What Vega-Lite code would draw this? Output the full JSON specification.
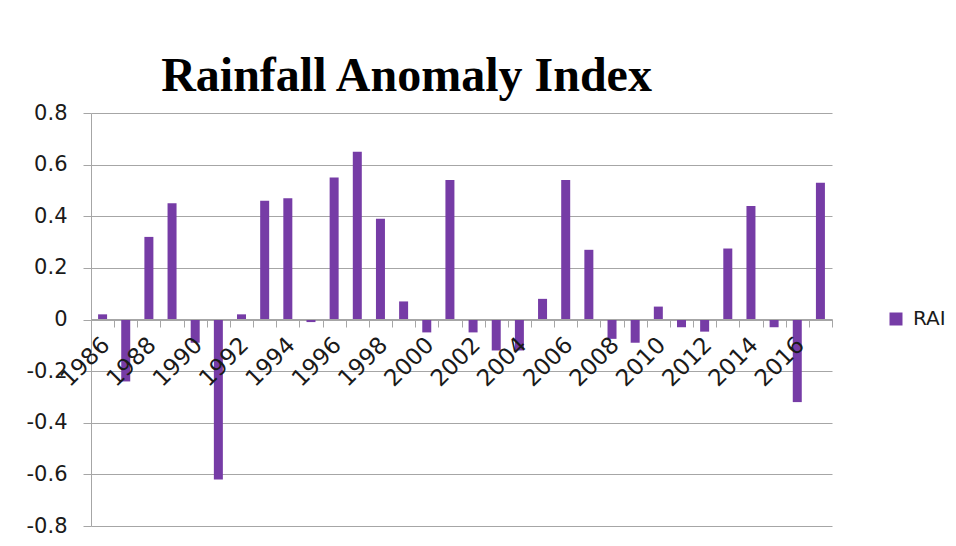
{
  "$schema": "https://vega.github.io/schema/vega-lite/v6.json",
  "autosize": {"type": "none"},
  "width": 741,
  "height": 413,
  "padding": {"left": 91, "top": 113, "right": 124, "bottom": 20},
  "background": "white",
  "title": {
    "text": "Rainfall Anomaly Index",
    "font": "Liberation Serif",
    "fontWeight": "bold",
    "fontSize": 48,
    "color": "#000000",
    "anchor": "middle",
    "frame": "group",
    "dx": -55,
    "offset": 1
  },
  "data": {
    "values": [
      {"year": "1986", "RAI": 0.02},
      {"year": "1987", "RAI": -0.24},
      {"year": "1988", "RAI": 0.32},
      {"year": "1989", "RAI": 0.45},
      {"year": "1990", "RAI": -0.09},
      {"year": "1991", "RAI": -0.62},
      {"year": "1992", "RAI": 0.02},
      {"year": "1993", "RAI": 0.46},
      {"year": "1994", "RAI": 0.47},
      {"year": "1995", "RAI": -0.01},
      {"year": "1996", "RAI": 0.55},
      {"year": "1997", "RAI": 0.65},
      {"year": "1998", "RAI": 0.39},
      {"year": "1999", "RAI": 0.07},
      {"year": "2000", "RAI": -0.05},
      {"year": "2001", "RAI": 0.54},
      {"year": "2002", "RAI": -0.05},
      {"year": "2003", "RAI": -0.12},
      {"year": "2004", "RAI": -0.12},
      {"year": "2005", "RAI": 0.08},
      {"year": "2006", "RAI": 0.54},
      {"year": "2007", "RAI": 0.27},
      {"year": "2008", "RAI": -0.075},
      {"year": "2009", "RAI": -0.09},
      {"year": "2010", "RAI": 0.05},
      {"year": "2011", "RAI": -0.03},
      {"year": "2012", "RAI": -0.047},
      {"year": "2013", "RAI": 0.275},
      {"year": "2014", "RAI": 0.44},
      {"year": "2015", "RAI": -0.03},
      {"year": "2016", "RAI": -0.32},
      {"year": "2017", "RAI": 0.53}
    ]
  },
  "mark": {"type": "bar", "size": 9, "opacity": 1},
  "encoding": {
    "x": {
      "field": "year",
      "type": "ordinal",
      "sort": null,
      "scale": {"paddingInner": 0, "paddingOuter": 0},
      "axis": {
        "title": null,
        "orient": "bottom",
        "offset": -207,
        "zindex": 1,
        "tickBand": "extent",
        "tickSize": 8,
        "tickColor": "#a6a6a6",
        "domainColor": "#a6a6a6",
        "labelAngle": -45,
        "labelAlign": "right",
        "labelBaseline": "middle",
        "labelPadding": 14,
        "labelOffset": 3,
        "labelFont": "DejaVu Sans",
        "labelFontSize": 23,
        "labelColor": "#1a1a1a",
        "labelOverlap": false,
        "labelExpr": "toNumber(datum.label) % 2 == 0 ? datum.label : ''",
        "grid": false
      }
    },
    "y": {
      "field": "RAI",
      "type": "quantitative",
      "scale": {"domain": [-0.8, 0.8], "nice": false, "zero": false},
      "axis": {
        "title": null,
        "values": [-0.8, -0.6, -0.4, -0.2, 0, 0.2, 0.4, 0.6, 0.8],
        "labelExpr": "abs(datum.value) < 1e-9 ? '0' : (datum.value < 0 ? '-' : '') + format(abs(datum.value), '.1f')",
        "labelFont": "DejaVu Sans",
        "labelFontSize": 21,
        "labelColor": "#1a1a1a",
        "labelPadding": 16,
        "tickSize": 8,
        "tickColor": "#a6a6a6",
        "domainColor": "#a6a6a6",
        "grid": true,
        "gridColor": "#a6a6a6",
        "gridWidth": 1
      }
    },
    "color": {
      "datum": "RAI",
      "type": "nominal",
      "scale": {"range": ["#763ca6"]},
      "legend": {
        "title": null,
        "orient": "none",
        "legendX": 795,
        "legendY": 196,
        "padding": 0,
        "symbolType": "square",
        "symbolSize": 169,
        "symbolStrokeWidth": 0,
        "labelFont": "DejaVu Sans",
        "labelFontSize": 20,
        "labelColor": "#1a1a1a",
        "labelOffset": 7
      }
    }
  },
  "config": {"view": {"stroke": null}}
}
